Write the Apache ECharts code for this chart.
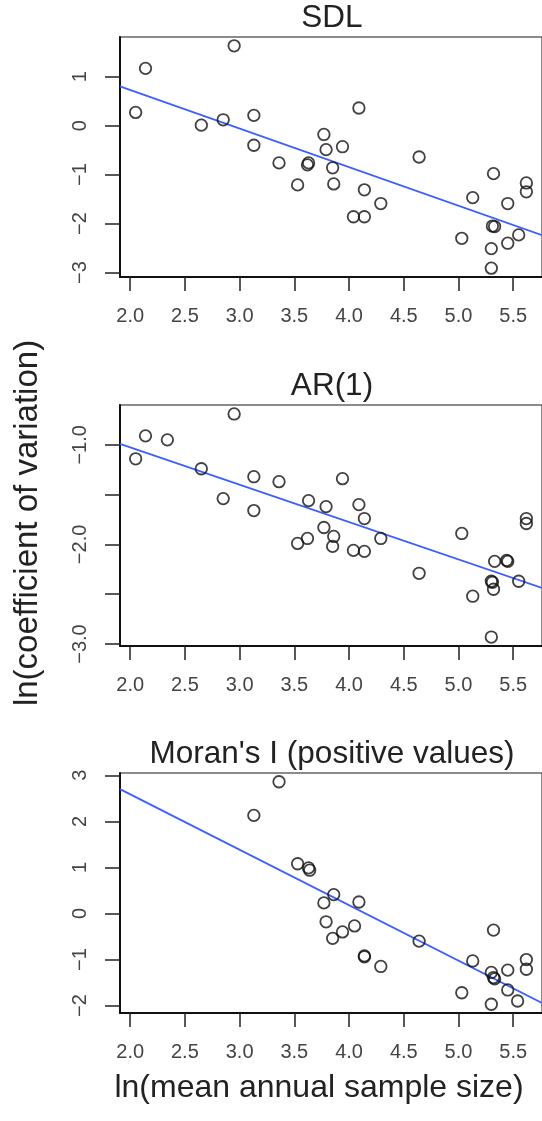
<!DOCTYPE html>
<html>
<head>
<meta charset="utf-8">
<script src="https://cdn.jsdelivr.net/npm/echarts@6/dist/echarts.min.js"></script>
<style>
  html, body { margin: 0; padding: 0; background: #fff; }
  #main { width: 542px; height: 1121px; }
</style>
</head>
<body>
<div id="main"></div>
<script>
// x = ln(mean annual sample size), y = ln(coefficient of variation)
var sdlX = [2.05, 2.14, 2.65, 2.85, 2.95, 3.13, 3.13, 3.36, 3.53, 3.62, 3.63, 3.77, 3.79, 3.85, 3.86, 3.94, 4.04,
            4.09, 4.14, 4.14, 4.29, 4.64, 5.03, 5.13, 5.30, 5.30, 5.31, 5.33, 5.32, 5.45, 5.45, 5.55, 5.62, 5.62];
var sdlY = [0.27, 1.17, 0.01, 0.12, 1.63, 0.21, -0.40, -0.76, -1.21, -0.80, -0.76, -0.18, -0.49, -0.86, -1.19, -0.43, -1.86,
            0.36, -1.31, -1.86, -1.59, -0.64, -2.30, -1.47, -2.51, -2.91, -2.05, -2.06, -0.98, -1.59, -2.40, -2.23, -1.17, -1.35];

var arX = [2.05, 2.14, 2.34, 2.65, 2.85, 2.95, 3.13, 3.13, 3.36, 3.53, 3.62, 3.63, 3.77, 3.79, 3.85, 3.86, 3.94, 4.04,
           4.09, 4.14, 4.14, 4.29, 4.64, 5.03, 5.13, 5.30, 5.30, 5.31, 5.33, 5.32, 5.45, 5.44, 5.55, 5.62, 5.62];
var arY = [-1.14, -0.91, -0.95, -1.24, -1.54, -0.69, -1.32, -1.66, -1.37, -1.99, -1.94, -1.56, -1.83, -1.62, -2.02, -1.92, -1.34, -2.06,
           -1.60, -1.74, -2.07, -1.94, -2.29, -1.89, -2.52, -2.37, -2.93, -2.38, -2.17, -2.45, -2.17, -2.16, -2.37, -1.74, -1.79];

var moranX = [3.13, 3.36, 3.53, 3.63, 3.64, 3.77, 3.79, 3.85, 3.86, 3.94, 4.05, 4.09, 4.14, 4.14,
              4.29, 4.64, 5.03, 5.13, 5.30, 5.30, 5.32, 5.33, 5.32, 5.45, 5.45, 5.54, 5.62, 5.62];
var moranY = [2.13, 2.86, 1.08, 0.99, 0.94, 0.23, -0.18, -0.54, 0.41, -0.40, -0.27, 0.25, -0.92, -0.94,
              -1.15, -0.60, -1.72, -1.03, -1.28, -1.97, -1.39, -1.42, -0.36, -1.23, -1.66, -1.90, -1.00, -1.21];

// fitted lines, end points read at the plot edges
var sdlFit = [[1.907, 0.80], [5.763, -2.235]];
var arFit = [[1.907, -0.99], [5.763, -2.436]];
var moranFit = [[1.907, 2.70], [5.763, -1.943]];

var panelTitles = ['SDL', 'AR(1)', "Moran's I (positive values)"];
var xTicks = [2.0, 2.5, 3.0, 3.5, 4.0, 4.5, 5.0, 5.5];
var sdlTicks = [1, 0, -1, -2, -3];
var arTicks = [-1.0, -1.5, -2.0, -2.5, -3.0];
var arLabels = [-1.0, -2.0, -3.0];
var moranTicks = [3, 2, 1, 0, -1, -2];

var xName = 'ln(mean annual sample size)';
var yName = 'ln(coefficient of variation)';

var font = 'Liberation Sans, Arial, Helvetica, sans-serif';
var chart = echarts.init(document.getElementById('main'));

var grids = [
  {left: 120, top: 37, width: 424, height: 240},
  {left: 120, top: 405, width: 424, height: 241},
  {left: 120, top: 773, width: 424, height: 240}
];
var yRanges = [[-3.09, 1.81], [-3.02, -0.60], [-2.16, 3.05]];
var yTickSets = [sdlTicks, arTicks, moranTicks];
var yLabelSets = [sdlTicks, arLabels, moranTicks];
var yDigits = [0, 1, 0];

function pairs(xs, ys) {
  return xs.map(function (x, i) { return [x, ys[i]]; });
}
var points = [pairs(sdlX, sdlY), pairs(arX, arY), pairs(moranX, moranY)];
var fits = [sdlFit, arFit, moranFit];

var option = {
  animation: false,
  backgroundColor: '#fff',
  textStyle: {fontFamily: font},
  grid: grids.map(function (g) {
    return Object.assign({show: true, borderColor: '#666', borderWidth: 1.5, backgroundColor: 'transparent'}, g);
  }),
  title: panelTitles.map(function (t, i) {
    return {
      text: t,
      left: 332,
      top: grids[i].top - 35,
      textAlign: 'center',
      padding: 0,
      textStyle: {fontFamily: font, fontSize: 31.5, fontWeight: 'normal', color: '#222'}
    };
  }),
  xAxis: grids.map(function (g, i) {
    return {
      type: 'value',
      gridIndex: i,
      min: 1.907,
      max: 5.763,
      splitLine: {show: false},
      axisLine: {show: true, onZero: false, lineStyle: {color: '#111', width: 2}},
      axisTick: {show: true, length: 14, customValues: xTicks, lineStyle: {color: '#222', width: 1.5}},
      axisLabel: {
        show: true, margin: 29, customValues: xTicks,
        fontFamily: font, fontSize: 20, color: '#444',
        formatter: function (v) { return v.toFixed(1); }
      }
    };
  }),
  yAxis: grids.map(function (g, i) {
    return {
      type: 'value',
      gridIndex: i,
      min: yRanges[i][0],
      max: yRanges[i][1],
      splitLine: {show: false},
      axisLine: {show: true, onZero: false, lineStyle: {color: '#111', width: 2}},
      axisTick: {show: true, length: 15, customValues: yTickSets[i], lineStyle: {color: '#222', width: 1.5}},
      axisLabel: {
        show: true, margin: 30, rotate: 90, customValues: yLabelSets[i],
        fontFamily: font, fontSize: 20, color: '#444',
        formatter: function (v) { return v.toFixed(yDigits[i]).replace('-', '\u2212'); }
      }
    };
  }),
  graphic: [
    {
      type: 'text', x: 28, y: 523, rotation: Math.PI / 2,
      style: {text: yName, font: '33px ' + font, fill: '#222', align: 'center', verticalAlign: 'middle'}
    },
    {
      type: 'text', x: 319, y: 1088,
      style: {text: xName, font: '32px ' + font, fill: '#222', align: 'center', verticalAlign: 'middle'}
    }
  ],
  series: []
};

for (var i = 0; i < 3; i++) {
  option.series.push({
    type: 'line',
    xAxisIndex: i,
    yAxisIndex: i,
    data: fits[i],
    symbol: 'none',
    clip: true,
    lineStyle: {color: '#3d5eff', width: 1.8},
    z: 2
  });
  option.series.push({
    type: 'scatter',
    xAxisIndex: i,
    yAxisIndex: i,
    data: points[i],
    symbol: 'circle',
    symbolSize: 11.5,
    clip: false,
    itemStyle: {color: 'transparent', borderColor: '#111', borderWidth: 1.8},
    z: 3
  });
}

chart.setOption(option);
</script>
</body>
</html>
